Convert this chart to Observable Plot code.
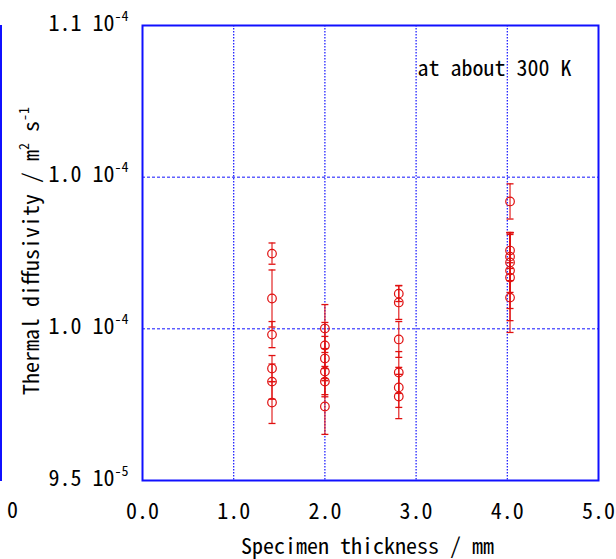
<!DOCTYPE html>
<html><head><meta charset="utf-8">
<script src="https://cdn.jsdelivr.net/npm/d3@7"></script>
<script src="https://cdn.jsdelivr.net/npm/@observablehq/plot@0.6"></script>
<style>
body{margin:0;background:#fff}
#wrap{position:relative;width:616px;height:559px}
#wrap svg text{font-family:"Noto Sans CJK JP";font-feature-settings:"hwid" 1;font-size:22px;fill:#000}
</style>
</head><body><div id="wrap"></div>
<script>
// ---- data ----
const xTicks = [0, 1, 2, 3, 4, 5];
const xTickLabels = ["0.0", "1.0", "2.0", "3.0", "4.0", "5.0"];
const yTicks = [9.5e-5, 1.0e-4, 1.05e-4, 1.1e-4];
const yTickLabels = ["9.5 10^-5", "1.0 10^-4", "1.0 10^-4", "1.1 10^-4"];
const xGrid = [1, 2, 3, 4];
const yGrid = [1.0e-4, 1.05e-4];
const xTitle = "Specimen thickness / mm";
const yTitle = "Thermal diffusivity / m^2 s^-1";
const note = "at about 300 K";

const thickness = [1.42, 1.42, 1.42, 1.42, 1.42, 1.42,
                   2.00, 2.00, 2.00, 2.00, 2.00, 2.00,
                   2.81, 2.81, 2.81, 2.81, 2.81, 2.81,
                   4.03, 4.03, 4.03, 4.03, 4.03, 4.03, 4.03];
const diffusivity = [102.48e-6, 101.00e-6, 99.81e-6, 98.69e-6, 98.26e-6, 97.57e-6,
                     100.01e-6, 99.45e-6, 99.02e-6, 98.59e-6, 98.26e-6, 97.44e-6,
                     101.16e-6, 100.87e-6, 99.65e-6, 98.56e-6, 98.07e-6, 97.77e-6,
                     104.20e-6, 102.58e-6, 102.38e-6, 102.19e-6, 101.92e-6, 101.69e-6, 101.03e-6];
const uncertainty = [0.35e-6, 0.94e-6, 0.43e-6, 0.43e-6, 0.58e-6, 0.69e-6,
                     0.79e-6, 0.76e-6, 0.73e-6, 0.76e-6, 0.50e-6, 0.92e-6,
                     0.26e-6, 0.56e-6, 0.59e-6, 0.69e-6, 0.66e-6, 0.73e-6,
                     0.58e-6, 0.59e-6, 0.79e-6, 0.99e-6, 1.25e-6, 1.42e-6, 1.15e-6];

const rows = thickness.map((x, i) => ({x, y: diffusivity[i], lo: diffusivity[i] - uncertainty[i], hi: diffusivity[i] + uncertainty[i]}));

const capSymbol = {draw(ctx) { ctx.moveTo(-3.5, 0); ctx.lineTo(3.5, 0); }};
const RED = "#e01010";
const BLUE = "#1010ff";

const chart = Plot.plot({
  width: 616, height: 559,
  marginLeft: 142, marginRight: 18, marginTop: 25, marginBottom: 79,
  style: {background: "white", overflow: "visible"},
  x: {domain: [0, 5], axis: null},
  y: {domain: [9.5e-5, 1.1e-4], axis: null},
  marks: [
    Plot.ruleX(xGrid, {x: d => d, stroke: BLUE, strokeWidth: 1.2, strokeDasharray: "1.5,1.5"}),
    Plot.ruleY(yGrid, {y: d => d, stroke: BLUE, strokeWidth: 1, strokeDasharray: "3,2"}),
    Plot.frame({stroke: BLUE, strokeWidth: 2}),
    Plot.ruleX(rows, {x: "x", y1: "lo", y2: "hi", stroke: RED, strokeWidth: 1.3, strokeOpacity: 0.85}),
    Plot.dot(rows, {x: "x", y: "lo", symbol: capSymbol, stroke: RED, strokeWidth: 1.3}),
    Plot.dot(rows, {x: "x", y: "hi", symbol: capSymbol, stroke: RED, strokeWidth: 1.3}),
    Plot.dot(rows, {x: "x", y: "y", r: 4.3, stroke: RED, strokeWidth: 1.2, fill: "none"}),
    Plot.text(xTicks, {x: d => d, text: (d, i) => xTickLabels[i], frameAnchor: "bottom", dy: 31, textAnchor: "middle", lineAnchor: "middle"}),
    Plot.text(yTicks, {y: d => d, text: (d, i) => yTickLabels[i], frameAnchor: "left", dx: -14, dy: -2, textAnchor: "end", lineAnchor: "middle"}),
    Plot.text([xTitle], {text: d => d, frameAnchor: "bottom", dx: -3, dy: 66, textAnchor: "middle", lineAnchor: "middle"}),
    Plot.text([yTitle], {text: d => d, frameAnchor: "left", dx: -111, dy: -2, rotate: -90, textAnchor: "middle", lineAnchor: "middle"}),
    Plot.text([note], {text: d => d, frameAnchor: "top-right", dx: -27, dy: 43, textAnchor: "end", lineAnchor: "middle"})
  ]
});

// superscripts: "a^b" -> tspan with raised, smaller b
function supify(svg) {
  svg.querySelectorAll("text").forEach(t => {
    if (t.querySelector("tspan")) return;
    const s = t.textContent;
    if (!s.includes("^")) return;
    const parts = s.split(/\^(\S+)/);
    t.textContent = "";
    let raised = false;
    parts.forEach((p, i) => {
      if (p === "") return;
      const ts = document.createElementNS("http://www.w3.org/2000/svg", "tspan");
      ts.textContent = p;
      if (i % 2 === 1) {
        ts.setAttribute("style", "font-size:14px");
        ts.setAttribute("dy", "-10");
        raised = true;
      } else if (raised) {
        ts.setAttribute("dy", "10");
        raised = false;
      }
      t.appendChild(ts);
    });
  });
}
supify(chart);

// neighbouring panel remnants at the left edge of the crop
const svg = d3.select(chart);
svg.append("line").attr("x1", 1).attr("x2", 1).attr("y1", 25).attr("y2", 481)
  .attr("stroke", BLUE).attr("stroke-width", 2);
svg.append("text").attr("x", 12.5).attr("y", 518).attr("text-anchor", "middle").text("0");

document.getElementById("wrap").appendChild(chart);
</script>
</body></html>
